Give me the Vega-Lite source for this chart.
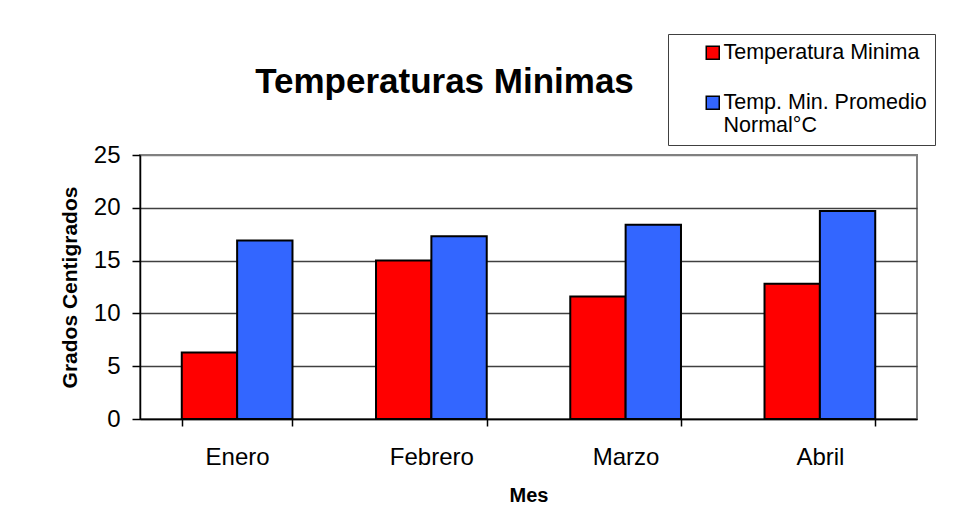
{
  "$schema": "https://vega.github.io/schema/vega-lite/v6.json",
  "width": 777,
  "height": 264,
  "autosize": {"type": "none"},
  "padding": {"left": 140, "top": 155, "right": 37, "bottom": 110},
  "background": "white",
  "title": {
    "text": "Temperaturas Minimas",
    "font": "Liberation Sans",
    "fontSize": 35,
    "fontWeight": "bold",
    "color": "black",
    "anchor": "middle",
    "dx": -84,
    "baseline": "alphabetic",
    "offset": -94
  },
  "data": {
    "values": [
      {"mes": "Enero", "serie": "Temperatura Minima", "valor": 6.3},
      {"mes": "Enero", "serie": "Temp. Min. Promedio Normal°C", "valor": 16.9},
      {"mes": "Febrero", "serie": "Temperatura Minima", "valor": 15.0},
      {"mes": "Febrero", "serie": "Temp. Min. Promedio Normal°C", "valor": 17.3},
      {"mes": "Marzo", "serie": "Temperatura Minima", "valor": 11.6},
      {"mes": "Marzo", "serie": "Temp. Min. Promedio Normal°C", "valor": 18.4},
      {"mes": "Abril", "serie": "Temperatura Minima", "valor": 12.8},
      {"mes": "Abril", "serie": "Temp. Min. Promedio Normal°C", "valor": 19.7}
    ]
  },
  "mark": {"type": "bar", "stroke": "black", "strokeWidth": 2},
  "encoding": {
    "x": {
      "field": "mes",
      "type": "nominal",
      "sort": ["Enero", "Febrero", "Marzo", "Abril"],
      "scale": {"paddingInner": 0.43, "paddingOuter": 0.215},
      "axis": {
        "title": "Mes",
        "titleFont": "Liberation Sans",
        "titleFontSize": 20,
        "titleFontWeight": "bold",
        "titleColor": "black",
        "titlePadding": 16,
        "labelFont": "Liberation Sans",
        "labelFontSize": 24,
        "labelColor": "black",
        "labelAngle": 0,
        "labelPadding": 19,
        "tickBand": "extent",
        "tickSize": 7,
        "tickColor": "black",
        "tickWidth": 1.5,
        "domainColor": "black",
        "domainWidth": 1.5
      }
    },
    "xOffset": {
      "field": "serie",
      "type": "nominal",
      "sort": ["Temperatura Minima", "Temp. Min. Promedio Normal°C"],
      "scale": {"paddingInner": 0, "paddingOuter": 0}
    },
    "y": {
      "field": "valor",
      "type": "quantitative",
      "scale": {"domain": [0, 25], "nice": false},
      "axis": {
        "title": "Grados Centigrados",
        "titleFont": "Liberation Sans",
        "titleFontSize": 21,
        "titleFontWeight": "bold",
        "titleColor": "black",
        "titlePadding": 13,
        "values": [0, 5, 10, 15, 20, 25],
        "labelFont": "Liberation Sans",
        "labelFontSize": 24,
        "labelColor": "black",
        "labelPadding": 12,
        "tickSize": 8,
        "tickColor": "black",
        "tickWidth": 1.5,
        "domainColor": "black",
        "domainWidth": 1.5,
        "grid": true,
        "gridColor": {"condition": {"test": "datum.value == 25", "value": "#808080"}, "value": "#404040"},
        "gridWidth": 1.3
      }
    },
    "color": {
      "field": "serie",
      "type": "nominal",
      "sort": ["Temperatura Minima", "Temp. Min. Promedio Normal°C"],
      "scale": {
        "domain": ["Temperatura Minima", "Temp. Min. Promedio Normal°C"],
        "range": ["#FF0000", "#3366FF"]
      },
      "legend": {
        "title": null,
        "orient": "none",
        "legendX": 528,
        "legendY": -121,
        "direction": "vertical",
        "fillColor": "white",
        "strokeColor": "#404040",
        "padding": 8,
        "symbolOffset": 26,
        "symbolType": "square",
        "symbolSize": 169,
        "symbolStrokeColor": "black",
        "symbolStrokeWidth": 1.5,
        "symbolOpacity": 1,
        "labelFont": "Liberation Sans",
        "labelFontSize": 21.5,
        "labelColor": "black",
        "labelOffset": 0,
        "labelLimit": 400,
        "labelBaseline": "middle",
        "labelLineHeight": 22,
        "rowPadding": 27,
        "labelExpr": "datum.label == 'Temp. Min. Promedio Normal°C' ? ['Temp. Min. Promedio', 'Normal°C'] : datum.label"
      }
    }
  },
  "config": {
    "view": {"stroke": "#808080", "strokeWidth": 2},
    "axis": {"labelOverlap": false}
  }
}
